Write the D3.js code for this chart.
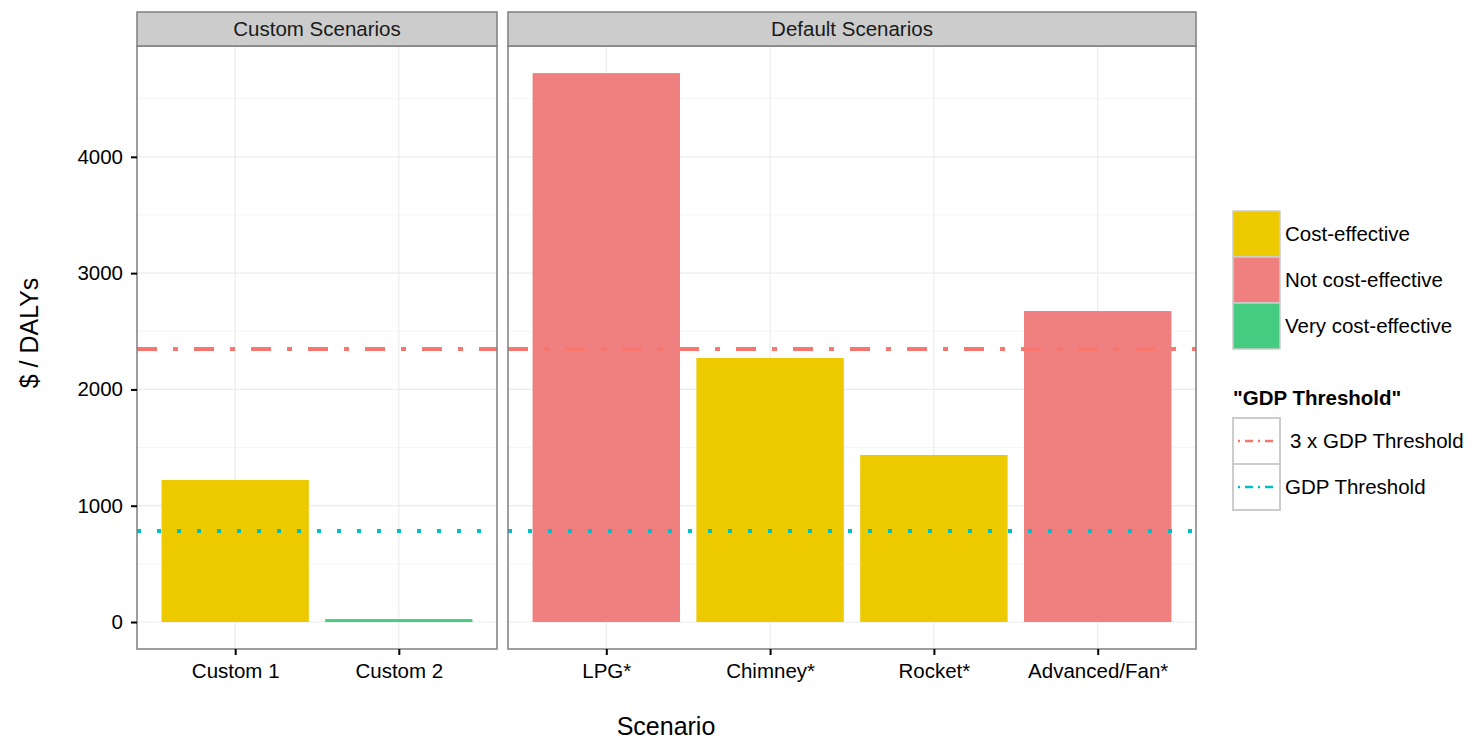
<!DOCTYPE html>
<html>
<head>
<meta charset="utf-8">
<script src="https://cdn.jsdelivr.net/npm/d3@7"></script>
<style>
  body { margin: 0; background: #fff; }
  text { font-family: "Liberation Sans", Arial, sans-serif; }
</style>
</head>
<body>
<svg id="chart" width="1476" height="742"></svg>
<script>
// data
const facets = ["Custom Scenarios", "Default Scenarios"];
const customNames = ["Custom 1", "Custom 2"];
const customValues = [1221, 25];
const customClass = ["Cost-effective", "Very cost-effective"];
const defaultNames = ["LPG*", "Chimney*", "Rocket*", "Advanced/Fan*"];
const defaultValues = [4720, 2270, 1436, 2674];
const defaultClass = ["Not cost-effective", "Cost-effective", "Cost-effective", "Not cost-effective"];
const classes = ["Cost-effective", "Not cost-effective", "Very cost-effective"];
const classColors = ["#EDC900", "#F07F7F", "#45CC80"];
const thresholdNames = ["3 x GDP Threshold", "GDP Threshold"];
const thresholdValues = [2347, 782];
const yTicks = [0, 1000, 2000, 3000, 4000];

const svg = d3.select("#chart");
const panelTop = 46, panelBottom = 649;
const stripH = 34;
const fs = 20.5;

const y = d3.scaleLinear().domain([-232, 4953]).range([panelBottom, panelTop]);
const color = d3.scaleOrdinal().domain(classes).range(classColors);

const panels = [
  {name: facets[0], x0: 137, x1: 497, cats: customNames, vals: customValues, cls: customClass},
  {name: facets[1], x0: 508, x1: 1196, cats: defaultNames, vals: defaultValues, cls: defaultClass}
];

const lineStyles = [
  {color: "#F8766D", dash: "20,16,5,16", width: 4},
  {color: "#00BFC4", dash: "4,16", width: 4}
];

panels.forEach(function (p) {
  const x = d3.scalePoint().domain(p.cats).range([p.x0, p.x1]).padding(0.6);
  const bw = x.step() * 0.9;
  const g = svg.append("g");

  // grid
  const minor = d3.range(500, 5000, 1000);
  g.selectAll(".minor").data(minor).enter().append("line")
    .attr("x1", p.x0).attr("x2", p.x1)
    .attr("y1", d => y(d)).attr("y2", d => y(d))
    .attr("stroke", "#f5f5f5").attr("stroke-width", 1);
  g.selectAll(".major").data(yTicks).enter().append("line")
    .attr("x1", p.x0).attr("x2", p.x1)
    .attr("y1", d => y(d)).attr("y2", d => y(d))
    .attr("stroke", "#ebebeb").attr("stroke-width", 1.2);
  g.selectAll(".vgrid").data(p.cats).enter().append("line")
    .attr("x1", d => x(d)).attr("x2", d => x(d))
    .attr("y1", panelTop).attr("y2", panelBottom)
    .attr("stroke", "#ebebeb").attr("stroke-width", 1.2);

  // bars
  g.selectAll(".bar").data(p.cats).enter().append("rect")
    .attr("x", d => x(d) - bw / 2)
    .attr("width", bw)
    .attr("y", (d, i) => y(p.vals[i]))
    .attr("height", (d, i) => y(0) - y(p.vals[i]))
    .attr("fill", (d, i) => color(p.cls[i]));

  // threshold lines
  thresholdValues.forEach(function (v, i) {
    g.append("line")
      .attr("x1", p.x0).attr("x2", p.x1)
      .attr("y1", y(v)).attr("y2", y(v))
      .attr("stroke", lineStyles[i].color)
      .attr("stroke-width", lineStyles[i].width)
      .attr("stroke-dasharray", lineStyles[i].dash);
  });

  // panel border
  g.append("rect").attr("x", p.x0).attr("y", panelTop)
    .attr("width", p.x1 - p.x0).attr("height", panelBottom - panelTop)
    .attr("fill", "none").attr("stroke", "#7f7f7f").attr("stroke-width", 1.5);

  // strip
  g.append("rect").attr("x", p.x0).attr("y", panelTop - stripH)
    .attr("width", p.x1 - p.x0).attr("height", stripH)
    .attr("fill", "#cccccc").attr("stroke", "#7f7f7f").attr("stroke-width", 1.5);
  g.append("text").attr("x", (p.x0 + p.x1) / 2).attr("y", panelTop - stripH / 2)
    .attr("dy", "0.35em").attr("text-anchor", "middle")
    .attr("font-size", fs).attr("fill", "#1a1a1a").text(p.name);

  // x axis
  const xa = svg.append("g").attr("transform", "translate(0," + panelBottom + ")")
    .call(d3.axisBottom(x).tickSize(6).tickPadding(8));
  xa.select(".domain").remove();
  xa.selectAll(".tick line").attr("stroke", "#000").attr("stroke-width", 2);
  xa.selectAll(".tick text").attr("font-size", fs).attr("fill", "#000")
    .style("font-family", "Liberation Sans, Arial, sans-serif");
});

// y axis
const ya = svg.append("g").attr("transform", "translate(137,0)")
  .call(d3.axisLeft(y).tickValues(yTicks).tickSize(6).tickPadding(8).tickFormat(d3.format("d")));
ya.select(".domain").remove();
ya.selectAll(".tick line").attr("stroke", "#000").attr("stroke-width", 2);
ya.selectAll(".tick text").attr("font-size", fs).attr("fill", "#000")
  .style("font-family", "Liberation Sans, Arial, sans-serif");

// axis titles
svg.append("text").attr("x", 666).attr("y", 735)
  .attr("text-anchor", "middle").attr("font-size", 25).text("Scenario");
svg.append("text").attr("transform", "translate(38,333) rotate(-90)")
  .attr("text-anchor", "middle").attr("font-size", 25).text("$ / DALYs");

// fill legend
const lx = 1233, ly = 211, kw = 47, kh = 46;
const leg = svg.append("g");
leg.selectAll("rect").data(classes).enter().append("rect")
  .attr("x", lx).attr("y", (d, i) => ly + i * kh)
  .attr("width", kw).attr("height", kh)
  .attr("fill", d => color(d)).attr("stroke", "#cccccc").attr("stroke-width", 1.5);
leg.selectAll("text").data(classes).enter().append("text")
  .attr("x", lx + kw + 5).attr("y", (d, i) => ly + i * kh + kh / 2)
  .attr("dy", "0.35em").attr("font-size", fs).text(d => d);

// line legend
const l2y = 418;
svg.append("text").attr("x", lx).attr("y", 398).attr("dy", "0.35em")
  .attr("font-size", fs).attr("font-weight", "bold").text("\"GDP Threshold\"");
const leg2 = svg.append("g");
thresholdNames.forEach(function (name, i) {
  const yy = l2y + i * kh;
  leg2.append("rect").attr("x", lx).attr("y", yy).attr("width", kw).attr("height", kh)
    .attr("fill", "#fff").attr("stroke", "#cccccc").attr("stroke-width", 2);
  leg2.append("line").attr("x1", lx + 5).attr("x2", lx + kw - 5)
    .attr("y1", yy + kh / 2).attr("y2", yy + kh / 2)
    .attr("stroke", lineStyles[i].color).attr("stroke-width", 2.5)
    .attr("stroke-dasharray", "2,5,8,5");
  leg2.append("text").attr("x", lx + kw + 5 + (i === 0 ? 5 : 0)).attr("y", yy + kh / 2)
    .attr("dy", "0.35em").attr("font-size", fs).text(name);
});
</script>
</body>
</html>
